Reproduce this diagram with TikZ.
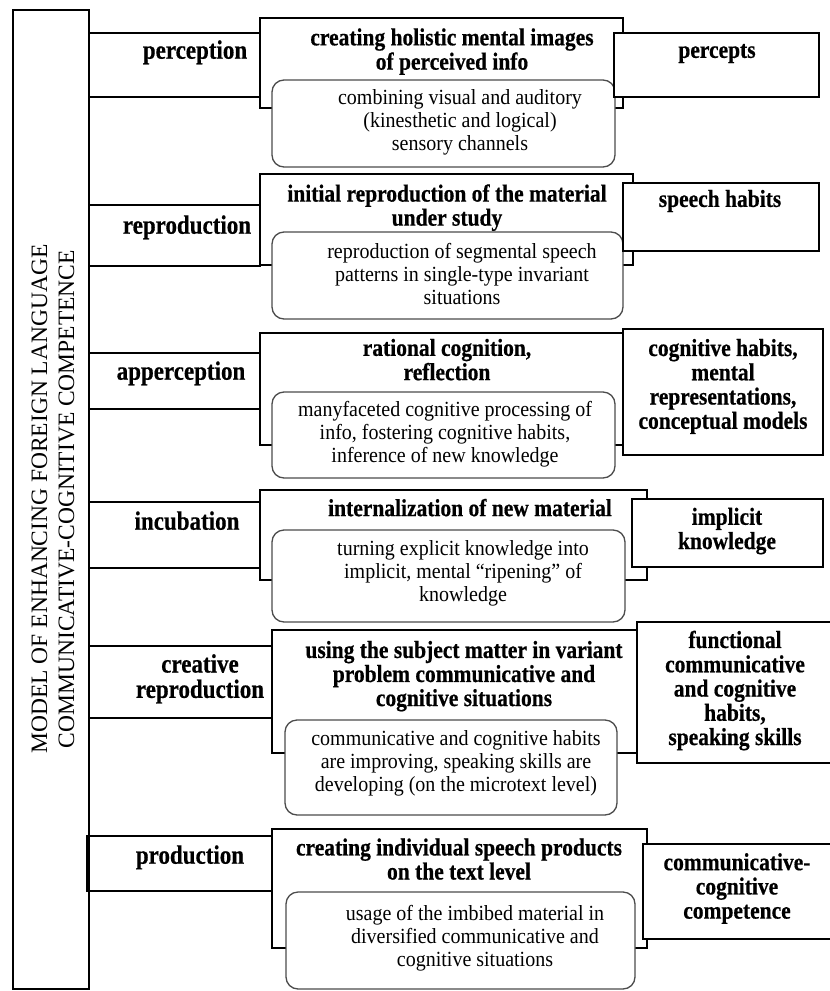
\documentclass[tikz,border=0pt]{standalone}
\usepackage{fontspec}
\usepackage{graphicx}
\setmainfont{Liberation Serif}[BoldFeatures={FakeBold=0.6}]
\usetikzlibrary{fit}
\newcommand\bx[6]{\node[#2, fit={(#3,#4) (#5,#6)}] (#1) {};}
\newcommand\vs[2]{\scalebox{1}[#1]{\begin{tabular}{@{}c@{}}#2\end{tabular}}}
\begin{document}
\begin{tikzpicture}[x=1pt,y=-1pt,
  rect/.style={draw=black, line width=1.2pt, inner sep=0pt},
  frect/.style={rect, fill=white},
  rbox/.style={draw=black!70, line width=1.3pt, rounded corners=12pt, fill=white, inner sep=0pt},
  ttl/.style={font=\fontsize{21.5}{20.6}\selectfont\bfseries, inner sep=0pt},
  res/.style={font=\fontsize{21.5}{21.2}\selectfont\bfseries, inner sep=0pt},
  lbl/.style={font=\fontsize{23}{20.2}\selectfont\bfseries, inner sep=0pt},
  txt/.style={font=\fontsize{20}{21}\selectfont, inner sep=0pt},
  vert/.style={font=\fontsize{23.5}{27}\selectfont, align=center, inner sep=0pt, rotate=90}
]
\useasboundingbox (0,0) rectangle (830,991);
\clip (0,0) rectangle (830,991);
\fill[white] (0,0) rectangle (830,991);

% main vertical box
\bx{main}{rect}{13}{10}{89}{989}
\node[vert] (maintitle) at (53,499) {MODEL OF ENHANCING FOREIGN LANGUAGE\\COMMUNICATIVE-COGNITIVE COMPETENCE};

% label boxes
\bx{lb1}{rect}{89}{33}{260}{97}
\bx{lb2}{rect}{89}{205}{260}{266}
\bx{lb3}{rect}{89}{353}{260}{409}
\bx{lb4}{rect}{89}{502}{260}{568}
\bx{lb5}{rect}{89}{646}{272}{718}
\bx{lb6}{rect}{87}{836}{272}{891}

% middle boxes
\bx{m1}{frect}{260}{18}{623}{108}
\bx{m2}{frect}{260}{174}{633}{265}
\bx{m3}{frect}{260}{333}{623}{445}
\bx{m4}{frect}{260}{490}{647}{580}
\bx{m5}{frect}{272}{630}{650}{753}
\bx{m6}{frect}{272}{829}{647}{948}

% rounded boxes
\bx{r1}{rbox}{272}{80}{615}{167}
\bx{r2}{rbox}{272}{232}{623}{319}
\bx{r3}{rbox}{272}{392}{615}{478}
\bx{r4}{rbox}{272}{530}{625}{622}
\bx{r5}{rbox}{285}{720}{617}{815}
\bx{r6}{rbox}{286}{892}{635}{989}

% result boxes
\bx{p1}{frect}{614}{33}{819}{97}
\bx{p2}{frect}{623}{183}{819}{251}
\bx{p3}{frect}{623}{329}{823}{455}
\bx{p4}{frect}{632}{499}{823}{567}
\bx{p5}{frect}{637}{622}{845}{763}
\bx{p6}{frect}{643}{844}{845}{939}

% labels
\node[lbl] (l1) at (195,53) {\vs{1.15}{perception}};
\node[lbl] (l2) at (187,228) {\vs{1.15}{reproduction}};
\node[lbl] (l3) at (181,374) {\vs{1.15}{apperception}};
\node[lbl] (l4) at (187,524) {\vs{1.15}{incubation}};
\node[lbl] (l5) at (200,679.5) {\vs{1.15}{creative\\reproduction}};
\node[lbl] (l6) at (190,858) {\vs{1.15}{production}};

% titles
\node[ttl] (t1) at (452,52.5) {\vs{1.14}{creating holistic mental images\\of perceived info}};
\node[ttl] (t2) at (447,208.5) {\vs{1.14}{initial reproduction of the material\\under study}};
\node[ttl] (t3) at (447,363) {\vs{1.14}{rational cognition,\\reflection}};
\node[ttl] (t4) at (470,511) {\vs{1.14}{internalization of new material}};
\node[ttl] (t5) at (464,677) {\vs{1.14}{using the subject matter in variant\\problem communicative and\\cognitive situations}};
\node[ttl] (t6) at (459,862.5) {\vs{1.14}{creating individual speech products\\on the text level}};

% rounded texts
\node[txt] (d1) at (460,123) {\vs{1.08}{combining visual and auditory\\(kinesthetic and logical)\\sensory channels}};
\node[txt] (d2) at (462,277) {\vs{1.08}{reproduction of segmental speech\\patterns in single-type invariant\\situations}};
\node[txt] (d3) at (445,435) {\vs{1.08}{manyfaceted cognitive processing of\\info, fostering cognitive habits,\\inference of new knowledge}};
\node[txt] (d4) at (463,574) {\vs{1.08}{turning explicit knowledge into\\implicit, mental “ripening” of\\knowledge}};
\node[txt] (d5) at (456,764) {\vs{1.08}{communicative and cognitive habits\\are improving, speaking skills are\\developing (on the microtext level)}};
\node[txt] (d6) at (475,939) {\vs{1.08}{usage of the imbibed material in\\diversified communicative and\\cognitive situations}};

% results
\node[res] (q1) at (717,53) {\vs{1.14}{percepts}};
\node[res] (q2) at (720,202) {\vs{1.14}{speech habits}};
\node[res] (q3) at (723,387.5) {\vs{1.14}{cognitive habits,\\mental\\representations,\\conceptual models}};
\node[res] (q4) at (727,532) {\vs{1.14}{implicit\\knowledge}};
\node[res] (q5) at (735,691.5) {\vs{1.14}{functional\\communicative\\and cognitive\\habits,\\speaking skills}};
\node[res] (q6) at (737,889.5) {\vs{1.14}{communicative-\\cognitive\\competence}};
\end{tikzpicture}
\end{document}
